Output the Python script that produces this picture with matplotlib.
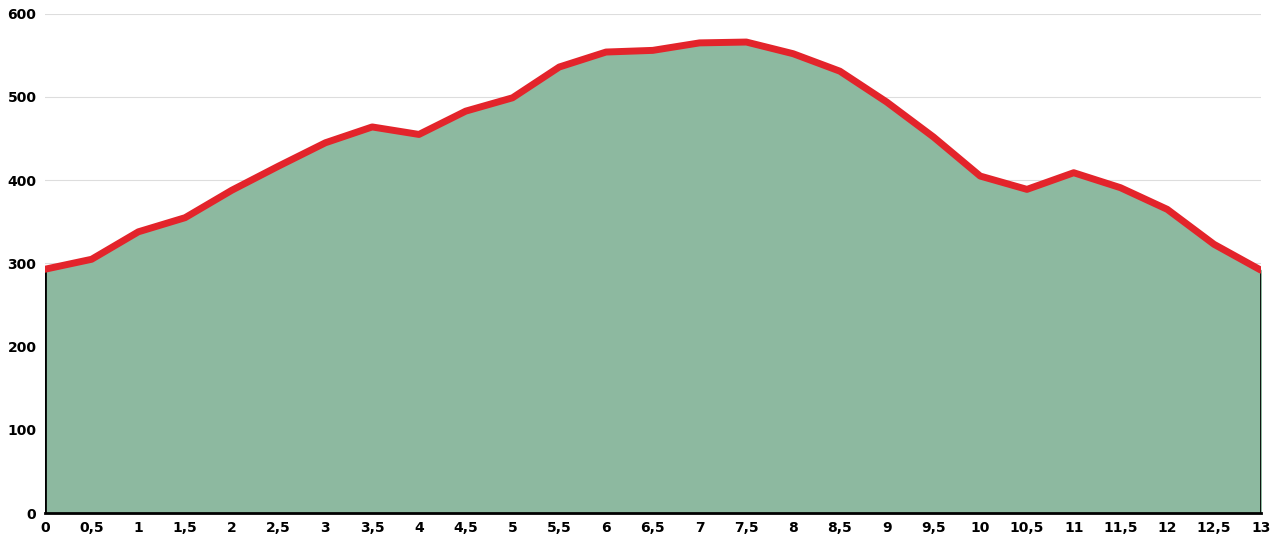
import matplotlib
matplotlib.use("Agg")
import matplotlib.pyplot as plt

dist = [0, 0.5, 1, 1.5, 2, 2.5, 3, 3.5, 4, 4.5, 5, 5.5, 6, 6.5, 7, 7.5, 8, 8.5, 9, 9.5, 10, 10.5, 11, 11.5, 12, 12.5, 13]
elev = [293, 305, 338, 355, 388, 417, 445, 464, 455, 483, 499, 536, 554, 556, 565, 566, 552, 531, 494, 452, 405, 389, 409, 391, 365, 323, 292]
xtick_labels = [str(d).replace('.', ',') if d % 1 else str(int(d)) for d in dist]

fig = plt.figure(figsize=(12.8, 5.5), dpi=100)
ax = fig.add_axes([0.035, 0.067, 0.95, 0.908])

ax.fill_between(dist, elev, 0, color='#8db9a0', zorder=1)
ax.plot(dist, elev, color='#e3242b', lw=5, solid_capstyle='round', zorder=3)
ax.vlines([dist[0], dist[-1]], 0, [elev[0], elev[-1]], color='black', lw=2, zorder=2)

ax.set_xlim(dist[0], dist[-1])
ax.set_ylim(0, 600)
ax.set_yticks(range(0, 601, 100))
ax.set_xticks(dist)
ax.set_xticklabels(xtick_labels)
ax.grid(axis='y', color='#dddddd', lw=0.8, zorder=0)
ax.set_axisbelow(True)
for s in ['top', 'right', 'left']:
    ax.spines[s].set_visible(False)
ax.spines['bottom'].set_linewidth(2)
ax.tick_params(length=0, labelsize=10, pad=6)
for lab in ax.get_xticklabels() + ax.get_yticklabels():
    lab.set_fontweight('bold')

fig.savefig('out.png')
